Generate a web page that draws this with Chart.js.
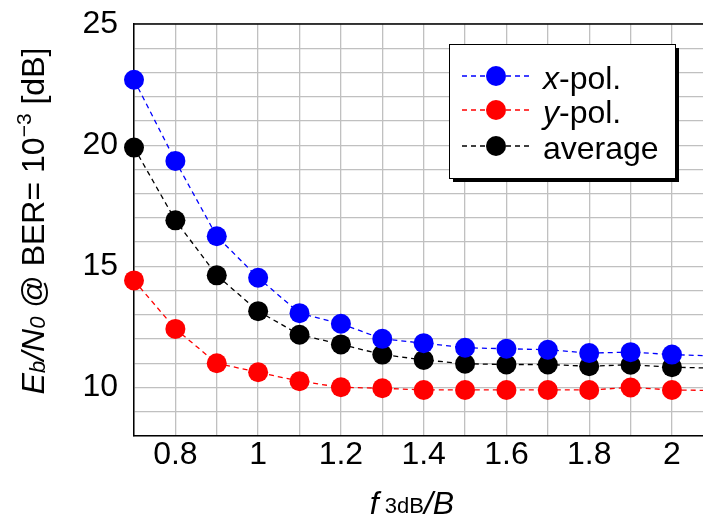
<!DOCTYPE html>
<html>
<head>
<meta charset="utf-8">
<script src="https://cdn.jsdelivr.net/npm/chart.js@4/dist/chart.umd.min.js"></script>
<style>
html,body{margin:0;padding:0;background:#fff;}
canvas{display:block;}
</style>
</head>
<body>
<canvas id="c" width="703" height="525"></canvas>
<script>
// ---- data ----
const fRatio = [0.7, 0.8, 0.9, 1.0, 1.1, 1.2, 1.3, 1.4, 1.5, 1.6, 1.7, 1.8, 1.9, 2.0, 2.1];
const xPol   = [22.7, 19.35, 16.24, 14.53, 13.07, 12.63, 12.01, 11.83, 11.64, 11.6, 11.56, 11.42, 11.46, 11.36, 11.3];
const yPol   = [14.42, 12.42, 11.0, 10.63, 10.26, 10.01, 9.97, 9.9, 9.9, 9.9, 9.9, 9.9, 10.0, 9.9, 9.88];
const avg    = [19.9, 16.9, 14.63, 13.15, 12.18, 11.78, 11.36, 11.14, 10.98, 10.95, 10.95, 10.88, 10.94, 10.84, 10.8];
const seriesNames = ['x-pol.', 'y-pol.', 'average'];
const seriesColors = ['#0000ff', '#ff0000', '#000000'];
const yTickLabels = [10, 15, 20, 25];
const xTickLabels = [0.8, 1, 1.2, 1.4, 1.6, 1.8, 2];

const FONT = '"Liberation Sans", Arial, Helvetica, sans-serif';

function mk(vals, i) {
  return {
    label: seriesNames[i],
    data: fRatio.map((x, k) => ({x: x, y: vals[k]})),
    borderColor: seriesColors[i],
    backgroundColor: seriesColors[i],
    borderWidth: 1.3,
    borderDash: [5, 4],
    pointRadius: 10,
    pointBorderWidth: 0,
    pointBackgroundColor: seriesColors[i],
    tension: 0,
    fill: false,
    clip: false
  };
}

const decor = {
  id: 'decor',
  afterDraw(chart) {
    const ctx = chart.ctx;
    const a = chart.chartArea;
    ctx.save();
    // top border
    ctx.strokeStyle = '#000';
    ctx.lineWidth = 1.5;
    ctx.beginPath();
    ctx.moveTo(a.left, a.top);
    ctx.lineTo(a.right, a.top);
    ctx.stroke();

    // legend box
    const bx = 449, by = 44, bw = 226, bh = 134;
    ctx.fillStyle = '#000';
    ctx.fillRect(bx + 4, by + 4, bw, bh);
    ctx.fillStyle = '#fff';
    ctx.fillRect(bx, by, bw, bh);
    ctx.lineWidth = 1;
    ctx.strokeStyle = '#000';
    ctx.strokeRect(bx + 0.5, by + 0.5, bw, bh);
    const rows = [76, 110, 146];
    for (let i = 0; i < 3; i++) {
      const cy = rows[i];
      ctx.strokeStyle = seriesColors[i];
      ctx.lineWidth = 1.3;
      ctx.setLineDash([5, 4]);
      ctx.beginPath();
      ctx.moveTo(462, cy); ctx.lineTo(486, cy);
      ctx.moveTo(506, cy); ctx.lineTo(532, cy);
      ctx.stroke();
      ctx.setLineDash([]);
      ctx.fillStyle = seriesColors[i];
      ctx.beginPath();
      ctx.arc(496, cy, 10, 0, Math.PI * 2);
      ctx.fill();
      ctx.fillStyle = '#000';
      ctx.textBaseline = 'alphabetic';
      ctx.textAlign = 'left';
      const name = seriesNames[i];
      let x = 543;
      const base = cy + 13;
      if (name.endsWith('-pol.')) {
        ctx.font = 'italic 32px ' + FONT;
        const first = name.charAt(0);
        ctx.fillText(first, x, base);
        x += ctx.measureText(first).width;
        ctx.font = '32px ' + FONT;
        ctx.fillText(name.slice(1), x, base);
      } else {
        ctx.font = '32px ' + FONT;
        ctx.fillText(name, x, base);
      }
    }

    // x-axis title: f_3dB / B
    const xParts = [
      {t: 'f', f: 'italic 32px ' + FONT, dy: 0, gap: 6},
      {t: '3dB', f: '22px ' + FONT, dy: -1, gap: 0},
      {t: '/B', f: 'italic 32px ' + FONT, dy: 0, gap: 0}
    ];
    drawParts(ctx, xParts, 412, 514);

    // y-axis title
    const yParts = [
      {t: 'E', f: 'italic 32px ' + FONT, dy: 0, gap: 0},
      {t: 'b', f: 'italic 22px ' + FONT, dy: 1, gap: 0},
      {t: '/N', f: 'italic 32px ' + FONT, dy: 0, gap: 0},
      {t: '0', f: 'italic 22px ' + FONT, dy: 1, gap: 0},
      {t: ' @ BER= 10', f: '32px ' + FONT, dy: 0, gap: 0},
      {t: '\u22123', f: '21px ' + FONT, dy: -13, gap: 0},
      {t: ' [dB]', f: '32px ' + FONT, dy: 0, gap: 0}
    ];
    ctx.save();
    ctx.translate(44, 221);
    ctx.rotate(-Math.PI / 2);
    drawParts(ctx, yParts, 0, 0);
    ctx.restore();
    ctx.restore();
  }
};

function drawParts(ctx, parts, cx, baseY) {
  let total = 0;
  parts.forEach(p => { ctx.font = p.f; p.w = ctx.measureText(p.t).width; total += p.w + p.gap; });
  let x = cx - total / 2;
  ctx.fillStyle = '#000';
  ctx.textAlign = 'left';
  ctx.textBaseline = 'alphabetic';
  parts.forEach(p => {
    ctx.font = p.f;
    ctx.fillText(p.t, x, baseY + p.dy);
    x += p.w + p.gap;
  });
}

new Chart(document.getElementById('c'), {
  type: 'line',
  data: { datasets: [mk(xPol, 0), mk(yPol, 1), mk(avg, 2)] },
  options: {
    responsive: false,
    devicePixelRatio: 1,
    animation: false,
    layout: { autoPadding: false, padding: { top: 24, right: 0, left: 0, bottom: 0 } },
    plugins: { legend: { display: false }, tooltip: { enabled: false } },
    scales: {
      x: {
        type: 'linear',
        min: 0.7, max: 2.075,
        afterFit(s) { s.height = 89; s.paddingLeft = 0; s.paddingRight = 0; },
        border: { color: '#000', width: 1.5 },
        grid: { color: '#c0c0c0', lineWidth: 1.3, drawTicks: false },
        ticks: {
          stepSize: 0.1,
          includeBounds: false,
          autoSkip: false,
          maxRotation: 0,
          padding: 0,
          color: '#000',
          font: { family: FONT, size: 32 },
          callback(v) {
            const r = Math.round(v * 10) / 10;
            return xTickLabels.some(t => Math.abs(t - r) < 1e-6) ? String(r) : '';
          }
        }
      },
      y: {
        type: 'linear',
        min: 8, max: 25,
        afterFit(s) { s.width = 134; s.paddingTop = 0; s.paddingBottom = 0; },
        border: { color: '#000', width: 1.5 },
        grid: { color: '#c0c0c0', lineWidth: 1.3, drawTicks: false },
        ticks: {
          stepSize: 1,
          autoSkip: false,
          padding: 16,
          color: '#000',
          font: { family: FONT, size: 32 },
          callback(v) { return yTickLabels.includes(v) ? String(v) : ''; }
        }
      }
    }
  },
  plugins: [decor]
});
</script>
</body>
</html>
